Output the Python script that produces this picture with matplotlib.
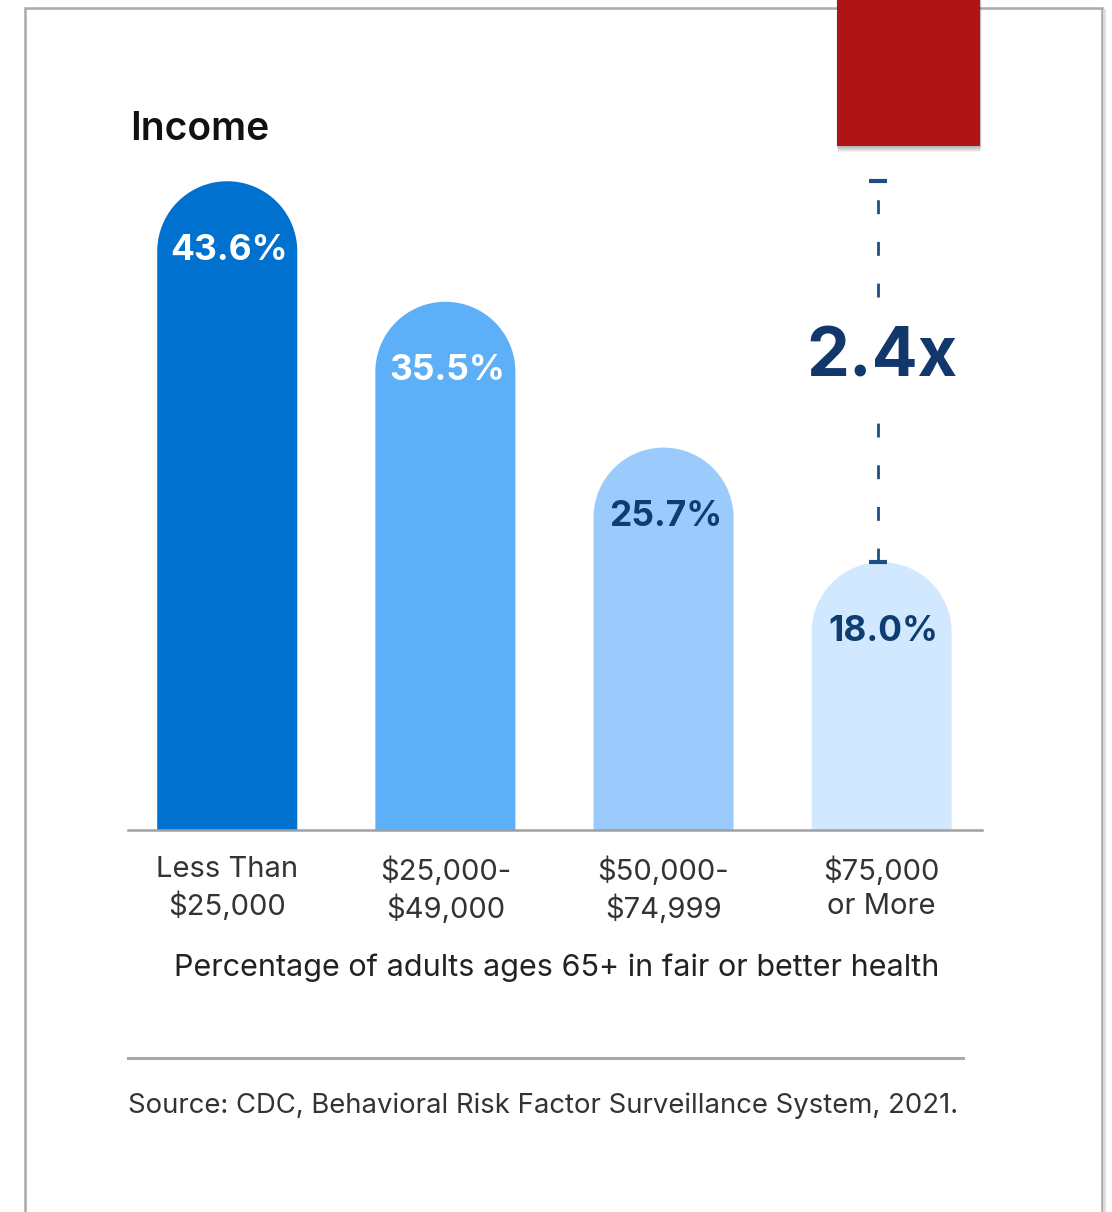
import matplotlib
matplotlib.use("Agg")
import matplotlib.pyplot as plt
from matplotlib.patches import Polygon, Rectangle
import numpy as np

plt.rcParams['font.family'] = ['Inter', 'DejaVu Sans']

categories = ["Less Than\n$25,000", "$25,000-\n$49,000", "$50,000-\n$74,999", "$75,000\nor More"]
values = [43.6, 35.5, 25.7, 18.0]
bar_colors = ["#0071CE", "#5DAFF7", "#9BCBFC", "#D2E8FE"]
label_colors = ["white", "white", "#0E3D72", "#0E3D72"]
ratio_label = "2.4x"

W, H = 1112, 1212
fig = plt.figure(figsize=(W / 100, H / 100), dpi=100)


def fx(x):
    return x / W


def fy(y):
    return 1 - y / H


# card outline (plus a faint shadow line on the right)
fig.add_artist(plt.Line2D([fx(1104), fx(1104)], [fy(10), fy(1212)], color="#DDDDDD",
                          lw=2, transform=fig.transFigure))
card = Rectangle((fx(25), fy(1240)), fx(1102) - fx(25), fy(8) - fy(1240),
                 transform=fig.transFigure, fill=False, edgecolor="#A9A9A9",
                 linewidth=1.8, zorder=1)
fig.patches.append(card)

# soft shadow under the red tab, then the tab itself
for k in range(1, 7):
    fig.patches.append(Rectangle((fx(837 - 1 + k * 0.3), fy(146 + k)),
                                 fx(980 + 2 - k * 0.3) - fx(837 - 1 + k * 0.3),
                                 fy(0) - fy(146 + k), transform=fig.transFigure,
                                 facecolor="black", edgecolor="none",
                                 alpha=0.05, zorder=2))
tab = Rectangle((fx(837), fy(146)), fx(980) - fx(837), fy(-5) - fy(146),
                transform=fig.transFigure, facecolor="#AE1514", edgecolor="none",
                zorder=3)
fig.patches.append(tab)

ymax = 50
ax_h = 744
ax = fig.add_axes([fx(128), fy(830), (982 - 128) / W, ax_h / H])
ax.set_xlim(-0.455, 3.46)
ax.set_ylim(0, ymax)

px_x = 854 / 3.915
px_y = ax_h / ymax
hw = 0.321
ry = hw * px_x / px_y

t = np.linspace(0, np.pi, 60)
for i, (v, c) in enumerate(zip(values, bar_colors)):
    pts = [(i - hw, 0), (i + hw, 0), (i + hw, v - ry)]
    pts += list(zip(i + hw * np.cos(t), v - ry + ry * np.sin(t)))
    pts += [(i - hw, v - ry)]
    ax.add_patch(Polygon(pts, closed=True, facecolor=c, edgecolor="none"))
    ax.text(i + 0.01, v - 4.65, f"{v:.1f}%", ha="center", va="center",
            fontsize=25.5, fontweight="bold", color=label_colors[i])

# comparison bracket between highest and lowest bar
xb = 3 - 0.016
lc = "#1F4F82"
ax.plot([xb, xb], [values[3], 28.0], color=lc, lw=2, ls=(0, (5, 10)))
ax.plot([xb, xb], [35.8, values[0]], color=lc, lw=2, ls=(0, (5, 10)))
for v in (values[0], values[3]):
    ax.plot([xb - 0.04, xb + 0.04], [v, v], color=lc, lw=3, solid_capstyle="butt")
ax.text(3.0, 31.7, ratio_label, ha="center", va="center", fontsize=49,
        fontweight="bold", color="#12386B")

for s in ["top", "right", "left"]:
    ax.spines[s].set_visible(False)
ax.spines["bottom"].set_color("#A0A0A0")
ax.spines["bottom"].set_linewidth(1.8)
ax.set_yticks([])
ax.set_xticks(range(len(categories)))
ax.set_xticklabels(categories, fontsize=21, color="#333333", linespacing=1.35)
ax.tick_params(axis="x", length=0, pad=19)
ax.patch.set_alpha(0)

fig.text(fx(130), fy(129), "Income", fontsize=28, fontweight="semibold",
         color="#111111", va="center", ha="left")
fig.text(fx(557), fy(968), "Percentage of adults ages 65+ in fair or better health",
         fontsize=22, color="#222222", ha="center", va="center")
fig.add_artist(plt.Line2D([fx(128), fx(963)], [fy(1058), fy(1058)],
                          color="#AAAAAA", lw=2.2, transform=fig.transFigure))
fig.text(fx(128), fy(1106), "Source: CDC, Behavioral Risk Factor Surveillance System, 2021.",
         fontsize=19.8, color="#333333", ha="left", va="center")

fig.savefig("out.png", dpi=100)
